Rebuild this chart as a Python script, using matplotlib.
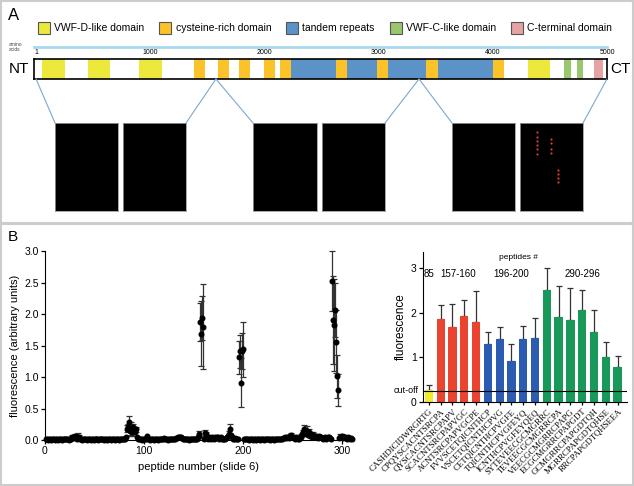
import numpy as np
import matplotlib
matplotlib.use("Agg")
import matplotlib.pyplot as plt
from matplotlib.patches import Patch, Rectangle, ConnectionPatch
from matplotlib.transforms import blended_transform_factory

plt.rcParams['font.family'] = ['Liberation Sans', 'DejaVu Sans']

W, H = 634, 486

# ---- panel A data: domain map (amino acid positions) ----
dom_labels = ['VWF-D-like domain', 'cysteine-rich domain', 'tandem repeats',
              'VWF-C-like domain', 'C-terminal domain']
dom_colors = ['#ede83c', '#fcc22a', '#5b93c8', '#98c76e', '#e6a3a3']
dom_start = [57, 457, 899, 4306,
             1388, 1597, 1778, 1997, 2135, 2624, 2985, 3414, 4005,
             2234, 2723, 3084, 3516,
             4625, 4738,
             4883]
dom_end = [258, 652, 1101, 4501,
           1484, 1689, 1873, 2093, 2234, 2723, 3084, 3516, 4101,
           2624, 2985, 3414, 4005,
           4685, 4791,
           4968]
dom_kind = [0, 0, 0, 0,
            1, 1, 1, 1, 1, 1, 1, 1, 1,
            2, 2, 2, 2,
            3, 3,
            4]
aa_ticks = [1, 1000, 2000, 3000, 4000, 5000]
zoom_aa = [1, 1576, 1576, 3354, 3354, 5000]
# red spots on the last array image (fractions of the image)
spot_x = [0.27, 0.27, 0.27, 0.27, 0.27, 0.27, 0.49, 0.49, 0.49, 0.49, 0.60, 0.60, 0.60, 0.60]
spot_y = [0.90, 0.84, 0.80, 0.75, 0.70, 0.65, 0.82, 0.77, 0.71, 0.66, 0.47, 0.42, 0.38, 0.33]

# ---- panel B data: fluorescence per peptide (slide 6) ----
scatter_vals = [
    0.01, 0.01, 0.00, 0.01, 0.01, 0.00, 0.01, 0.01, 0.01, 0.00, 0.01, 0.01, 0.00, 0.01, 0.01, 0.01, 0.00, 0.01, 0.02, 0.01,
    0.01, 0.01, 0.01, 0.00, 0.01, 0.02, 0.05, 0.03, 0.04, 0.06, 0.03, 0.02, 0.05, 0.04, 0.01, 0.01, 0.00, 0.01, 0.01, 0.01,
    0.01, 0.00, 0.01, 0.01, 0.01, 0.00, 0.01, 0.01, 0.00, 0.01, 0.01, 0.01, 0.01, 0.00, 0.01, 0.02, 0.02, 0.01, 0.01, 0.00,
    0.01, 0.01, 0.00, 0.01, 0.01, 0.01, 0.00, 0.01, 0.01, 0.01, 0.00, 0.01, 0.01, 0.01, 0.00, 0.01, 0.01, 0.01, 0.02, 0.01,
    0.02, 0.05, 0.18, 0.20, 0.28, 0.15, 0.18, 0.13, 0.20, 0.16, 0.12, 0.17, 0.04, 0.02, 0.01, 0.01, 0.01, 0.00, 0.01, 0.01,
    0.01, 0.02, 0.07, 0.01, 0.01, 0.00, 0.01, 0.01, 0.01, 0.00, 0.01, 0.01, 0.01, 0.00, 0.01, 0.01, 0.02, 0.01, 0.01, 0.03,
    0.02, 0.01, 0.01, 0.00, 0.01, 0.01, 0.01, 0.01, 0.02, 0.02, 0.02, 0.03, 0.03, 0.04, 0.05, 0.04, 0.05, 0.03, 0.02, 0.02,
    0.01, 0.01, 0.01, 0.01, 0.00, 0.01, 0.01, 0.01, 0.01, 0.02, 0.01, 0.01, 0.02, 0.04, 0.10, 0.06, 1.87, 1.69, 1.93, 1.80,
    0.02, 0.11, 0.09, 0.03, 0.02, 0.04, 0.03, 0.02, 0.05, 0.03, 0.02, 0.04, 0.03, 0.05, 0.04, 0.02, 0.03, 0.04, 0.02, 0.01,
    0.01, 0.02, 0.03, 0.04, 0.06, 0.10, 0.17, 0.08, 0.04, 0.02, 0.01, 0.03, 0.01, 0.02, 0.01, 1.31, 1.41, 0.91, 1.41, 1.44,
    0.02, 0.01, 0.01, 0.02, 0.01, 0.00, 0.01, 0.01, 0.01, 0.00, 0.01, 0.01, 0.00, 0.01, 0.01, 0.01, 0.00, 0.01, 0.01, 0.01,
    0.00, 0.01, 0.01, 0.02, 0.01, 0.01, 0.00, 0.01, 0.01, 0.01, 0.00, 0.01, 0.01, 0.01, 0.01, 0.01, 0.02, 0.01, 0.02, 0.03,
    0.03, 0.04, 0.03, 0.05, 0.04, 0.03, 0.06, 0.08, 0.05, 0.04, 0.03, 0.02, 0.04, 0.03, 0.02, 0.02, 0.03, 0.05, 0.07, 0.10,
    0.12, 0.18, 0.14, 0.10, 0.15, 0.08, 0.12, 0.06, 0.09, 0.05, 0.08, 0.06, 0.04, 0.07, 0.05, 0.03, 0.06, 0.04, 0.05, 0.03,
    0.02, 0.03, 0.04, 0.02, 0.03, 0.05, 0.04, 0.03, 0.02, 2.52, 1.90, 1.83, 2.07, 1.56, 1.01, 0.79, 0.03, 0.05, 0.04, 0.06,
    0.03, 0.05, 0.04, 0.03, 0.02, 0.04, 0.03, 0.02, 0.03, 0.02,
]
# peptides with a visible error bar, and the error (SD)
err_pep = [27, 30, 33, 34, 83, 84, 85, 86, 87, 88, 89, 90, 92, 155, 157, 158, 159, 160, 162, 163,
           186, 187, 196, 197, 198, 199, 200, 248, 259, 261, 262, 263, 265, 267, 269, 271, 274,
           290, 291, 292, 293, 294, 295, 296, 298, 300]
err_val = [0.03, 0.03, 0.06, 0.04, 0.06, 0.05, 0.10, 0.08, 0.10, 0.06, 0.05, 0.05, 0.04, 0.04,
           0.30, 0.51, 0.35, 0.68, 0.05, 0.03,
           0.04, 0.09, 0.26, 0.26, 0.39, 0.29, 0.44, 0.03, 0.03, 0.04, 0.06, 0.05, 0.07, 0.05, 0.04,
           0.04, 0.03,
           0.48, 0.70, 0.73, 0.43, 0.50, 0.34, 0.25, 0.04, 0.03]

# positive peptides shown in the bar chart
hit_pep = [85, 157, 158, 159, 160, 196, 197, 198, 199, 200, 290, 291, 292, 293, 294, 295, 296]
hit_seq = ['CASHDICIDWRGRTG',
           'CPQYSCACNTSRCPA', 'QYSCACNTSRCPAPV', 'SCACNTSRCPAPVGC', 'ACNTSRCPAPVGCPE',
           'FVVSCETQICNTHCP', 'VSCETQICNTHCPVG', 'CETQICNTHCPVGFE', 'TQICNTHCPVGFEYQ', 'ICNTHCPVGFEYQEQ',
           'SYTEVEECGCMGRRC', 'TEVEECGCMGRRCPA', 'VEECGCMGRRCPAPG', 'ECGCMGRRCPAPGDT',
           'GCMGRRCPAPGDTQH', 'MGRRCPAPGDTQHSE', 'RRCPAPGDTQHSEEA']
hit_group = [0, 1, 1, 1, 1, 2, 2, 2, 2, 2, 3, 3, 3, 3, 3, 3, 3]
group_names = ['85', '157-160', '196-200', '290-296']
group_colors = ['#f2ea2e', '#ea4330', '#2b5cb2', '#18995a']
cutoff = 0.25


def box(x0, y0, x1, y1):
    # pixel box, origin top-left -> [left, bottom, width, height]
    return [x0 / W, 1 - y1 / H, (x1 - x0) / W, (y1 - y0) / H]


fig = plt.figure(figsize=(W / 100, H / 100), dpi=100)

# panel frames
fig.add_artist(Rectangle((1 / W, 1 - 223 / H), 632 / W, 222 / H, transform=fig.transFigure,
                         fill=False, ec='#cccccc', lw=1.5))
fig.add_artist(Rectangle((1 / W, 1 / H), 632 / W, 261 / H, transform=fig.transFigure,
                         fill=False, ec='#cccccc', lw=1.5))
fig.text(8 / W, 1 - 15 / H, 'A', fontsize=12, va='center')
fig.text(8 / W, 1 - 237 / H, 'B', fontsize=11, va='center')

# ---- A: legend ----
handles = [Patch(facecolor=c, edgecolor='#555555', lw=0.8, label=l) for l, c in zip(dom_labels, dom_colors)]
fig.legend(handles=handles, loc='center left', bbox_to_anchor=(38 / W, 1 - 28 / H), ncol=5,
           frameon=False, fontsize=7.5, handlelength=1.15, handleheight=1.35, handletextpad=0.4,
           columnspacing=1.45, borderpad=0, borderaxespad=0)

# ---- A: domain bar ----
axb = fig.add_axes(box(34, 59, 607, 79))
for s, e, k in zip(dom_start, dom_end, dom_kind):
    axb.axvspan(s, e, color=dom_colors[k], lw=0)
axb.set_xlim(-17, 5000)
axb.set_ylim(0, 1)
axb.set_yticks([])
axb.xaxis.tick_top()
axb.set_xticks(aa_ticks)
axb.set_xticklabels([str(t) for t in aa_ticks])
axb.tick_params(axis='x', length=0, pad=2, labelsize=5)
for sp in axb.spines.values():
    sp.set_linewidth(1.2)
btr = blended_transform_factory(axb.transData, axb.transAxes)
axb.plot([-17, 5000], [1.6, 1.6], transform=btr, color='#a9d9ef', lw=2, clip_on=False)
axb.text(-0.008, 0.5, 'NT', transform=axb.transAxes, ha='right', va='center', fontsize=11)
axb.text(1.006, 0.5, 'CT', transform=axb.transAxes, ha='left', va='center', fontsize=11)
fig.text(9 / W, 1 - 47 / H, 'amino\nacids', fontsize=3.5, va='center', color='#444444', linespacing=1.1)

# ---- A: peptide array images ----
img_x = [(55, 118), (123, 186), (253, 317), (322, 385), (452, 515), (520, 583)]
img_axes = []
for x0, x1 in img_x:
    a = fig.add_axes(box(x0, 123, x1, 211))
    a.set_facecolor('black')
    a.set_xticks([])
    a.set_yticks([])
    a.set_xlim(0, 1)
    a.set_ylim(0, 1)
    for sp in a.spines.values():
        sp.set_color('#999999')
        sp.set_linewidth(0.6)
    img_axes.append(a)
img_axes[-1].scatter(spot_x, spot_y, s=2.5, color='#e03a3a', lw=0)

for i, aa in enumerate(zoom_aa):
    con = ConnectionPatch(xyA=(aa, 0), coordsA=btr, xyB=(i % 2, 1), coordsB=img_axes[i].transAxes,
                          color='#7ea7cc', lw=0.8)
    fig.add_artist(con)

# ---- B: scatter of all peptides ----
pep = np.arange(1, len(scatter_vals) + 1)
vals = np.array(scatter_vals)
axs = fig.add_axes(box(45, 251, 352, 440))
axs.errorbar(err_pep, vals[np.array(err_pep) - 1], yerr=err_val, fmt='none', ecolor='#333333',
             elinewidth=0.9, capsize=2, capthick=0.9, clip_on=False)
axs.plot(pep, vals, 'o', color='black', ms=3.3, clip_on=False, zorder=3)
axs.set_xlim(0, 310)
axs.set_ylim(0, 3.0)
axs.set_xticks([0, 100, 200, 300])
axs.set_yticks(np.arange(0, 3.01, 0.5))
axs.set_yticklabels([f'{t:.1f}' for t in np.arange(0, 3.01, 0.5)])
axs.spines['top'].set_visible(False)
axs.spines['right'].set_visible(False)
axs.tick_params(length=3, width=0.9, labelsize=7.5, pad=1.5)
axs.set_xlabel('peptide number (slide 6)', fontsize=8, labelpad=4)
axs.set_ylabel('fluorescence (arbitrary units)', fontsize=8, labelpad=3)

# ---- B: bar chart of positive peptides ----
hv = vals[np.array(hit_pep) - 1]
he = [err_val[err_pep.index(p)] for p in hit_pep]
xb = np.arange(len(hit_pep))
axr = fig.add_axes(box(423, 252, 627, 402))
axr.bar(xb, hv, width=0.7, color=[group_colors[g] for g in hit_group], zorder=2)
axr.errorbar(xb, hv, yerr=[np.zeros(len(he)), he], fmt='none', ecolor='#333333',
             elinewidth=0.9, capsize=2.2, capthick=0.9, zorder=1)
axr.axhline(cutoff, color='black', lw=0.8, zorder=3)
axr.set_xlim(-0.5, 16.8)
axr.set_ylim(0, 3.36)
axr.set_yticks([0, 1, 2, 3])
axr.set_xticks(xb)
axr.set_xticklabels(hit_seq, rotation=45, ha='right', rotation_mode='anchor',
                    fontfamily='Liberation Serif', fontsize=6.3)
axr.spines['top'].set_visible(False)
axr.spines['right'].set_visible(False)
axr.tick_params(axis='y', length=3, width=0.9, labelsize=7.5, pad=1.5)
axr.tick_params(axis='x', length=2.5, width=0.9, pad=1.5)
axr.set_ylabel('fluorescence', fontsize=8.5, labelpad=3)
ctr = blended_transform_factory(axr.transAxes, axr.transData)
axr.text(-0.02, cutoff, 'cut-off', transform=ctr, ha='right', va='center', fontsize=6.5)
for g, name in enumerate(group_names):
    gx = xb[np.array(hit_group) == g].mean()
    axr.text(gx, 2.87, name, ha='center', va='center', fontsize=7)
axr.text(xb.mean() - 0.4, 3.24, 'peptides #', ha='center', va='center', fontsize=6)

fig.savefig('out.png', dpi=100)
